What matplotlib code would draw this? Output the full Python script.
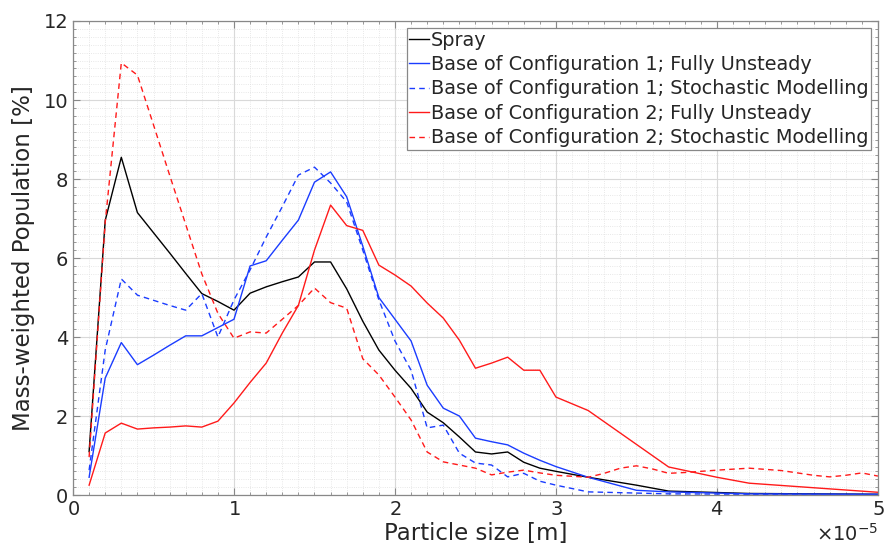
import numpy as np
import matplotlib
matplotlib.use('Agg')
import matplotlib.pyplot as plt
from matplotlib.ticker import MultipleLocator, ScalarFormatter

# particle sizes in micrometres (converted to metres when plotted)
x_spray = [1, 2, 3, 4, 5, 6, 7, 8, 9, 10, 11, 12, 13, 14, 15, 16, 17, 18, 19, 20,
           21, 22, 23, 24, 25, 26, 27, 28, 29, 30, 32, 35, 37, 42, 50]
spray = [1.1, 6.95, 8.55, 7.15, 6.64, 6.13, 5.61, 5.1, 4.9, 4.68, 5.11, 5.27, 5.4,
         5.52, 5.9, 5.9, 5.22, 4.4, 3.67, 3.16, 2.7, 2.1, 1.83, 1.47, 1.09, 1.04,
         1.09, 0.83, 0.68, 0.6, 0.45, 0.25, 0.1, 0.04, 0.02]

x_c1_fu = x_spray
c1_fu = [0.45, 2.96, 3.86, 3.3, 3.54, 3.79, 4.03, 4.03, 4.24, 4.45, 5.8, 5.93, 6.45,
         6.96, 7.92, 8.18, 7.55, 6.3, 5.0, 4.45, 3.9, 2.78, 2.2, 2.0, 1.44, 1.35,
         1.27, 1.06, 0.88, 0.72, 0.45, 0.12, 0.08, 0.03, 0.02]

x_c1_sm = x_spray
c1_sm = [0.63, 3.67, 5.47, 5.06, 4.93, 4.8, 4.68, 5.1, 4.0, 4.94, 5.7, 6.53, 7.3,
         8.1, 8.3, 7.9, 7.42, 6.2, 4.94, 3.9, 3.16, 1.7, 1.77, 1.06, 0.81, 0.76,
         0.46, 0.55, 0.35, 0.25, 0.08, 0.05, 0.03, 0.02, 0.01]

x_c2_fu = [1, 2, 3, 4, 5, 6, 7, 8, 9, 10, 11, 12, 13, 14, 15, 16, 17, 18, 19, 20,
           21, 22, 23, 24, 25, 26, 27, 28, 29, 30, 32, 37, 40, 42, 50]
c2_fu = [0.25, 1.57, 1.82, 1.67, 1.7, 1.72, 1.75, 1.72, 1.87, 2.33, 2.85, 3.34, 4.1,
         4.8, 6.2, 7.34, 6.82, 6.7, 5.82, 5.57, 5.29, 4.86, 4.48, 3.92, 3.21, 3.34,
         3.49, 3.16, 3.16, 2.48, 2.14, 0.71, 0.45, 0.3, 0.07]

x_c2_sm = [1, 2, 3, 4, 5, 6, 7, 8, 9, 10, 11, 12, 13, 14, 15, 16, 17, 18, 19, 20,
           21, 22, 23, 24, 25, 26, 27, 28, 29, 30, 32, 33, 34, 35, 36, 37, 38, 39,
           40, 42, 44, 46, 47, 48, 49, 50]
c2_sm = [0.96, 6.9, 10.94, 10.63, 9.37, 8.1, 6.85, 5.6, 4.6, 3.97, 4.13, 4.1, 4.45,
         4.8, 5.24, 4.87, 4.73, 3.45, 3.04, 2.48, 1.9, 1.09, 0.84, 0.76, 0.68, 0.51,
         0.58, 0.63, 0.56, 0.5, 0.45, 0.55, 0.68, 0.74, 0.66, 0.55, 0.57, 0.6, 0.63,
         0.68, 0.62, 0.5, 0.46, 0.5, 0.56, 0.48]

labels = ['Spray',
          'Base of Configuration 1; Fully Unsteady',
          'Base of Configuration 1; Stochastic Modelling',
          'Base of Configuration 2; Fully Unsteady',
          'Base of Configuration 2; Stochastic Modelling']

fig = plt.figure(figsize=(8.85, 5.6), dpi=100)
ax = fig.add_axes([0.0825, 0.116, 0.9095, 0.8465])

um = 1e-6
ax.plot(np.array(x_spray) * um, spray, color='k', lw=1.0, label=labels[0])
ax.plot(np.array(x_c1_fu) * um, c1_fu, color='#1a3cff', lw=1.0, label=labels[1])
ax.plot(np.array(x_c1_sm) * um, c1_sm, color='#1a3cff', lw=1.0, ls=(0, (4, 3)), label=labels[2])
ax.plot(np.array(x_c2_fu) * um, c2_fu, color='#ff1a1a', lw=1.0, label=labels[3])
ax.plot(np.array(x_c2_sm) * um, c2_sm, color='#ff1a1a', lw=1.0, ls=(0, (4, 3)), label=labels[4])

ax.set_xlim(0, 5e-5)
ax.set_ylim(0, 12)
ax.xaxis.set_major_locator(MultipleLocator(1e-5))
ax.xaxis.set_minor_locator(MultipleLocator(1e-6))
ax.yaxis.set_major_locator(MultipleLocator(2))
ax.yaxis.set_minor_locator(MultipleLocator(0.2))
fmt = ScalarFormatter(useMathText=True)
fmt.set_powerlimits((0, 0))
ax.xaxis.set_major_formatter(fmt)
ax.xaxis.get_offset_text().set_fontsize(14)
ax.xaxis.get_offset_text().set_color('#262626')

ax.grid(which='major', color='#d9d9d9', lw=0.8, ls='-')
ax.grid(which='minor', color='#e0e0e0', lw=0.6, ls=':')
ax.set_axisbelow(True)
ax.tick_params(which='both', direction='in', top=True, right=True, color='#888888',
               labelsize=14, labelcolor='#262626')
ax.tick_params(which='major', length=5)
ax.tick_params(which='minor', length=2.5)
for s in ax.spines.values():
    s.set_color('#888888')
    s.set_linewidth(0.9)

ax.set_xlabel('Particle size [m]', fontsize=16.5, color='#262626', labelpad=2)
ax.set_ylabel('Mass-weighted Population [%]', fontsize=16.5, color='#262626', labelpad=6)

leg = ax.legend(loc='upper right', fontsize=13.9, handlelength=1.0, handletextpad=0.1,
                borderaxespad=0.35, borderpad=0.15, labelspacing=0.28, fancybox=False,
                framealpha=1, edgecolor='#888888')
leg.get_frame().set_linewidth(0.9)
for t in leg.get_texts():
    t.set_color('#262626')

fig.savefig('out.png', dpi=100)
